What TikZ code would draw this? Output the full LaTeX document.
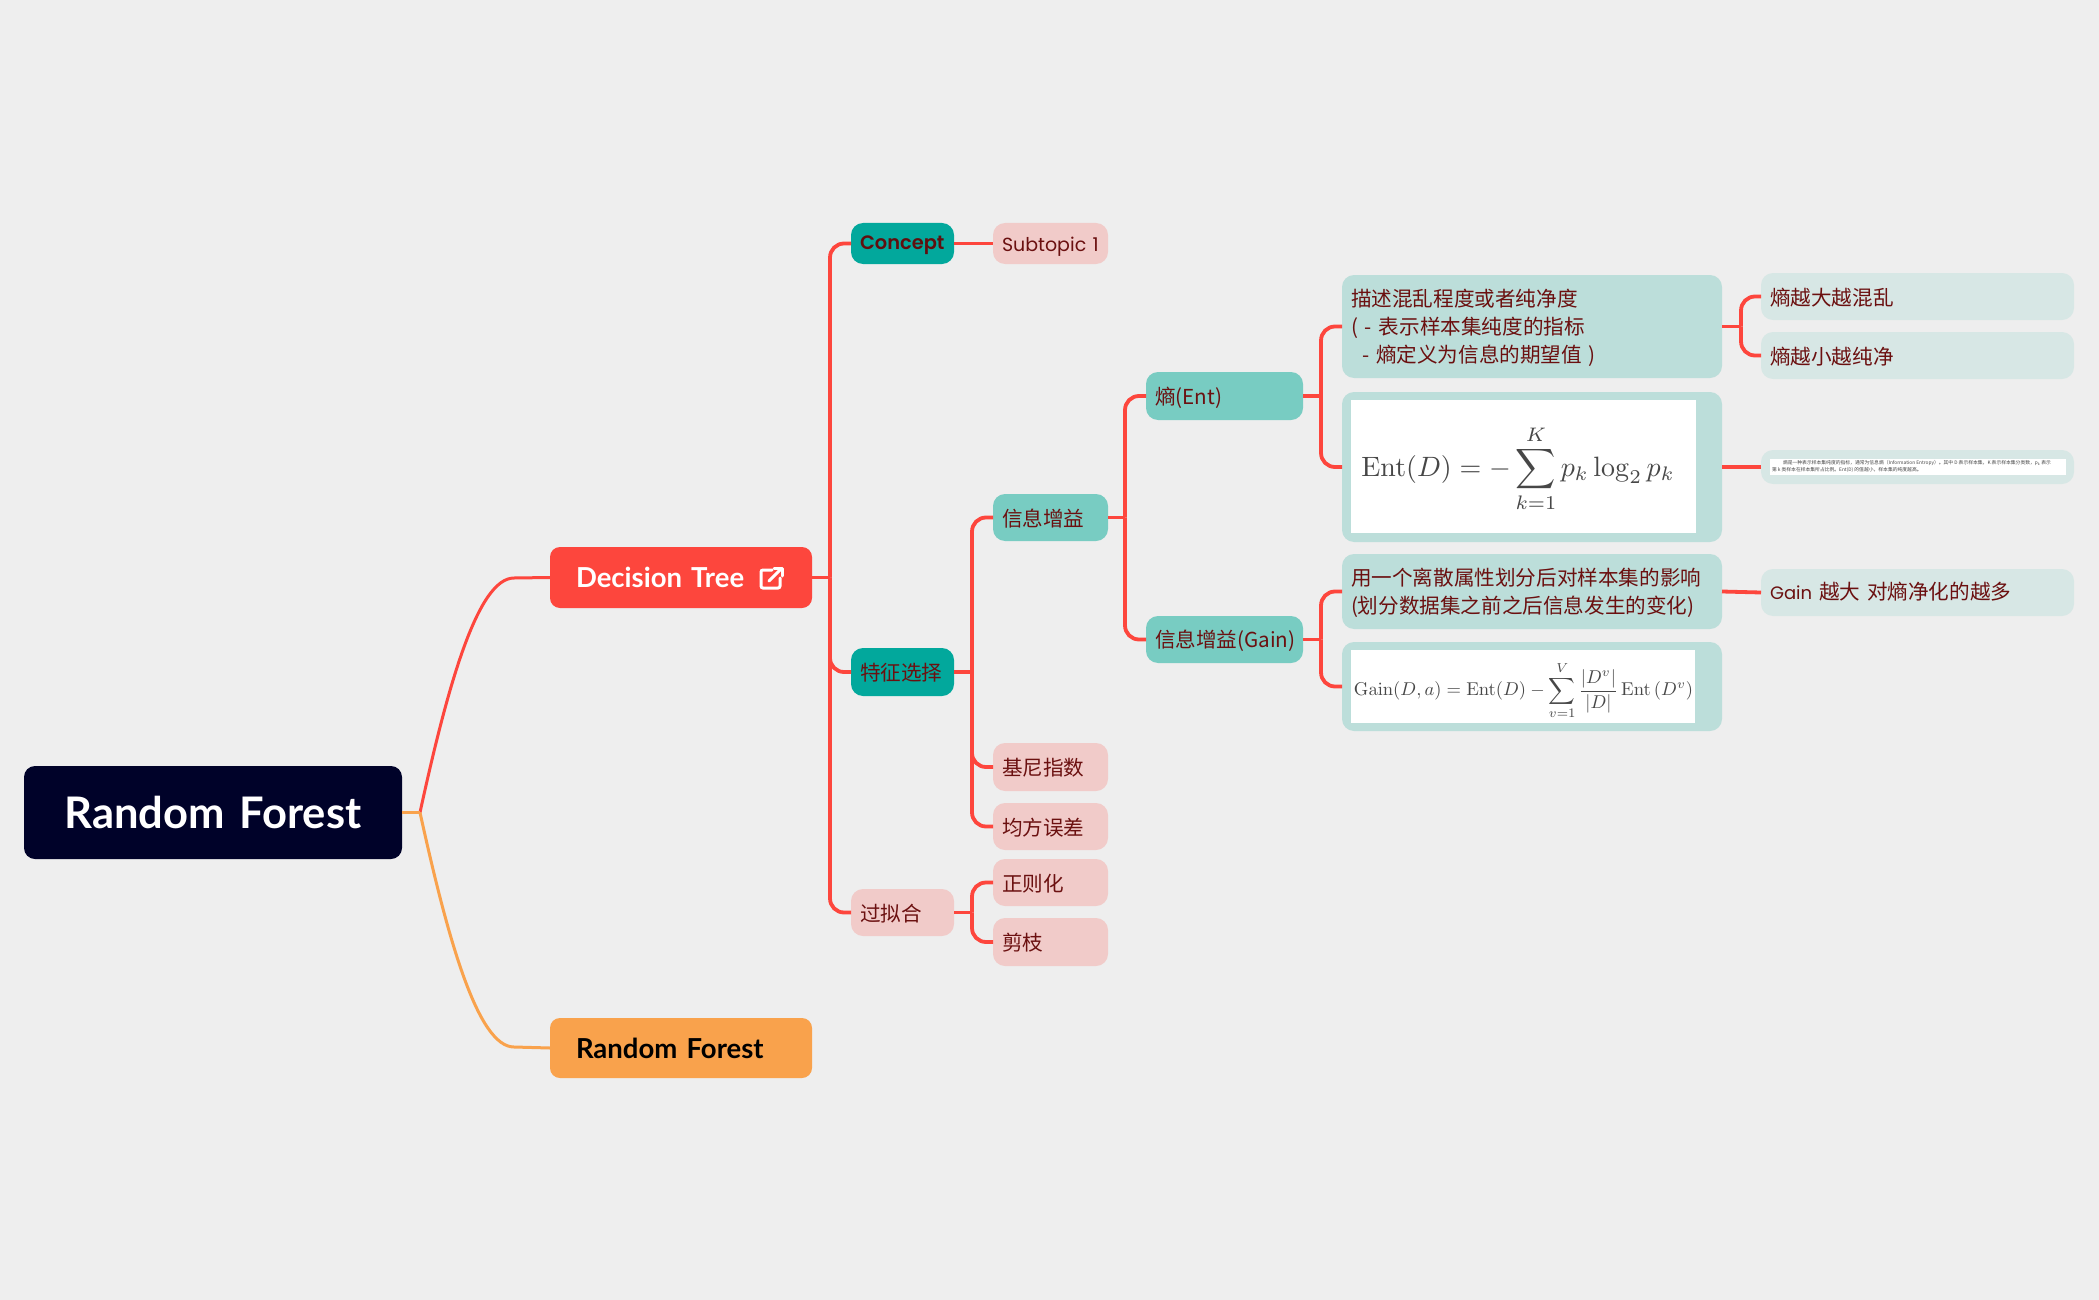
\documentclass[tikz,border=0pt]{standalone}
\usepackage[no-math]{fontspec}
\setmainfont{Poppins}
\newfontfamily\cjk{Noto Sans CJK SC}
\newfontfamily\hd{Lato}[UprightFont=* Bold, WordSpace=0.7]
\newfontfamily\cpt{Poppins}[UprightFont=* SemiBold]
\definecolor{bgc}{HTML}{EEEEEE}
\definecolor{redc}{HTML}{FD463D}
\definecolor{orc}{HTML}{F9A24C}
\definecolor{navy}{HTML}{000229}
\definecolor{tealA}{HTML}{02A89C}
\definecolor{tealB}{HTML}{78CCC2}
\definecolor{tealC}{HTML}{BCDEDA}
\definecolor{tealD}{HTML}{D7E7E5}
\definecolor{pinkc}{HTML}{F1CBC9}
\definecolor{txt}{HTML}{6B1010}
\tikzset{
  base/.style={inner ysep=0pt, outer sep=0pt, align=left, text=txt},
  rootbox/.style={base, fill=navy, rounded corners=11pt, text=white, align=center, font=\fontsize{43.5}{50}\selectfont\hd},
  mainred/.style={base, fill=redc, rounded corners=10pt, text=white, text height=21pt, font=\fontsize{27.5}{32}\selectfont\hd},
  mainor/.style={base, fill=orc, rounded corners=10pt, text=black, font=\fontsize{27.5}{32}\selectfont\hd},
  tA/.style={base, fill=tealA, rounded corners=12pt, text height=19.5pt, font=\fontsize{20.6}{28}\selectfont\cjk},
  tAb/.style={base, fill=tealA, rounded corners=12pt, text=txt!90!black, text height=18pt, font=\fontsize{19.4}{26}\selectfont\cpt},
  tB/.style={base, fill=tealB, rounded corners=12pt, text height=19.5pt, font=\fontsize{20.6}{28}\selectfont\cjk},
  tC/.style={base, fill=tealC, rounded corners=12pt, text height=19.5pt, font=\fontsize{20.6}{28}\selectfont\cjk},
  tD/.style={base, fill=tealD, rounded corners=12pt, text height=19.5pt, font=\fontsize{20.6}{28}\selectfont\cjk},
  tP/.style={base, fill=pinkc, rounded corners=12pt, text height=19.5pt, font=\fontsize{20.6}{28}\selectfont\cjk},
  tPl/.style={base, fill=pinkc, rounded corners=12pt, text height=20pt, font=\fontsize{19}{26}\selectfont},
  plain/.style={base, fill=tealC, rounded corners=12pt},
  plainD/.style={base, fill=tealD, rounded corners=12pt},
  pic/.style={base, fill=white, rounded corners=0pt},
  formula/.style={inner sep=0pt, outer sep=0pt, text=black!72},
  note/.style={inner sep=0pt, outer sep=0pt, align=left, text=black!72, font=\fontsize{4.8}{7.6}\selectfont\cjk},
  link/.style={draw=redc, line width=3.8pt, rounded corners=14pt},
  straight/.style={draw=redc, line width=3.8pt},
  linko/.style={draw=orc, line width=3pt},
  linkr/.style={draw=redc, line width=3pt}
}
\newcommand\bx[8][9]{%
  \pgfmathsetmacro\bxw{#5-#3}\pgfmathsetmacro\bxh{#6-#4}%
  \pgfmathsetmacro\bxt{\bxw-2*#1}\pgfmathsetmacro\bxcx{(#3+#5)/2}\pgfmathsetmacro\bxcy{(#4+#6)/2}%
  \node[#7, inner xsep=#1pt, text width=\bxt pt, minimum width=\bxw pt, minimum height=\bxh pt] (#2) at (\bxcx,\bxcy) {#8};}
\begin{document}
\begin{tikzpicture}[x=1pt,y=-1pt]
\useasboundingbox (0,0) rectangle (2099,1300);
\fill[bgc] (0,0) rectangle (2099,1300);

% nodes
\bx{root}{24}{766}{402}{859}{rootbox}{Random Forest}
\bx[26]{dt}{550}{547}{812}{608}{mainred}{Decision Tree}
\bx[26]{rf}{550}{1018}{812}{1078}{mainor}{Random Forest}
\bx{concept}{851}{223}{954}{264}{tAb}{Concept}
\bx{sub}{993}{223}{1108}{264}{tPl}{Subtopic 1}
\bx{feat}{851}{648}{954}{696}{tA}{特征选择}
\bx{over}{851}{889}{954}{936}{tP}{过拟合}
\bx{gainnode}{993}{494}{1108}{541}{tB}{信息增益}
\bx{gini}{993}{743}{1108}{791}{tP}{基尼指数}
\bx{mse}{993}{803}{1108}{850}{tP}{均方误差}
\bx{reg}{993}{859}{1108}{906}{tP}{正则化}
\bx{prune}{993}{918}{1108}{966}{tP}{剪枝}
\bx{ent}{1146}{372}{1303}{420}{tB, text height=21.5pt}{熵(Ent)}
\bx{gain}{1146}{616}{1303}{663}{tB}{信息增益(Gain)}
\bx{desc}{1342}{275}{1722}{378}{tC}{描述混乱程度或者纯净度\\( - 表示样本集纯度的指标\\\hspace*{11pt}- 熵定义为信息的期望值 )}
\bx{entbox}{1342}{392}{1722}{542}{plain}{}
\bx{gdesc}{1342}{554}{1722}{629}{tC}{用一个离散属性划分后对样本集的影响\\(划分数据集之前之后信息发生的变化)}
\bx{gainbox}{1342}{642}{1722}{731}{plain}{}
\bx{big}{1761}{273}{2074}{320}{tD}{熵越大越混乱}
\bx{small}{1761}{332}{2074}{379}{tD}{熵越小越纯净}
\bx{notebox}{1761}{450}{2074}{484}{plainD}{}
\bx{more}{1761}{569}{2074}{616}{tD, text height=16pt}{{\fontsize{18}{28}\selectfont\rmfamily Gain} 越大 对熵净化的越多}

% pictures inside the boxes
\bx{entpic}{1351}{400}{1696}{533}{pic}{}
\node[formula] (entf) at (1518,469) {\resizebox{313pt}{!}{$\displaystyle \mathrm{Ent}(D)=-\sum_{k=1}^{K} p_k \log_2 p_k$}};
\bx{gainpic}{1351}{650}{1695}{723}{pic}{}
\node[formula] (gainf) at (1523.5,690.5) {\resizebox{339pt}{!}{$\displaystyle \mathrm{Gain}(D,a)=\mathrm{Ent}(D)-\sum_{v=1}^{V}\frac{|D^v|}{|D|}\,\mathrm{Ent}\left(D^v\right)$}};
\bx{notepic}{1770}{459}{2066}{475}{pic}{}
\node[note, anchor=north west] (notef) at (1772,460) {\hspace*{11pt}熵是一种表示样本集纯度的指标，通常为信息熵（Information Entropy）。其中 D 表示样本集，K 表示样本集分类数，p\textsubscript{k} 表示\\第 k 类样本在样本集所占比例。Ent(D) 的值越小，样本集的纯度越高。};

% icon in Decision Tree
\draw[white, line width=3pt, rounded corners=2pt, line cap=round] (772,570) -- (761,570) -- (761,588) -- (780,588) -- (780,578);
\draw[white, line width=3pt, line cap=round] (769,581) -- (781,569);
\draw[white, line width=3pt, line cap=round, line join=round] (774,568.5) -- (782,568.5) -- (782,576);

% connectors
\draw[linkr] (root.east) -- ++(18,0) coordinate (r0);
\draw[linkr] (r0) .. controls (448,684) and (478,578) .. (514,578) -- (dt.west);
\draw[linko] (root.east) -- (r0);
\draw[linko] (r0) .. controls (448,940) and (478,1047) .. (514,1047) -- (rf.west);

\draw[straight] (dt.east) -- ++(18,0) coordinate (j1);
\draw[link] (j1) |- (concept.west);
\draw[link] (j1) |- (feat.west);
\draw[link] (j1) |- (over.west);
\draw[straight] (concept.east) -- (sub.west);

\draw[straight] (feat.east) -- ++(18,0) coordinate (j2);
\draw[link] (j2) |- (gainnode.west);
\draw[link] (j2) |- (gini.west);
\draw[link] (j2) |- (mse.west);

\draw[straight] (over.east) -- ++(18,0) coordinate (j3);
\draw[link] (j3) |- (reg.west);
\draw[link] (j3) |- (prune.west);

\draw[straight] (gainnode.east) -- ++(17,0) coordinate (j4);
\draw[link] (j4) |- (ent.west);
\draw[link] (j4) |- (gain.west);

\draw[straight] (ent.east) -- ++(18,0) coordinate (j5);
\draw[link] (j5) |- (desc.west);
\draw[link] (j5) |- (entbox.west);

\draw[straight] (gain.east) -- ++(18,0) coordinate (j6);
\draw[link] (j6) |- (gdesc.west);
\draw[link] (j6) |- (gainbox.west);

\draw[straight] (desc.east) -- ++(19,0) coordinate (j7);
\draw[link] (j7) |- (big.west);
\draw[link] (j7) |- (small.west);

\draw[straight] (entbox.east) -- (notebox.west);
\draw[straight] (gdesc.east) -- (more.west);
\end{tikzpicture}
\end{document}
